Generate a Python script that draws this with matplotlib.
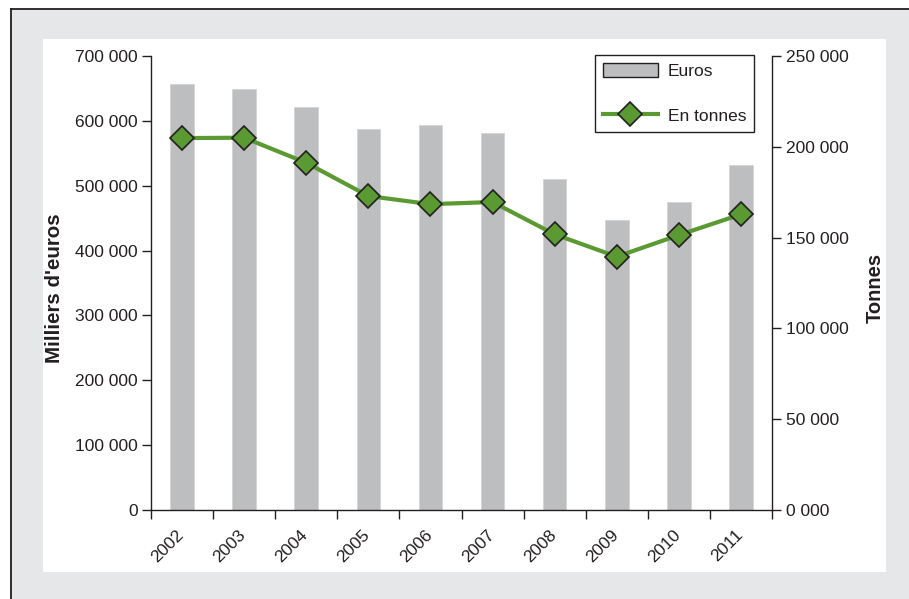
import matplotlib.pyplot as plt
from matplotlib.patches import Rectangle, Patch
from matplotlib.lines import Line2D
from matplotlib.transforms import ScaledTranslation
import numpy as np

plt.rcParams['font.family'] = ['Liberation Sans', 'DejaVu Sans']

years = ['2002', '2003', '2004', '2005', '2006', '2007', '2008', '2009', '2010', '2011']
euros = [657500, 648500, 621500, 588000, 593500, 582000, 511000, 447000, 474500, 532500]
tonnes = [204800, 205000, 191200, 172900, 168400, 169600, 151800, 139500, 151400, 162800]

left_ticks = [0, 100000, 200000, 300000, 400000, 500000, 600000, 700000]
left_labels = ['0', '100 000', '200 000', '300 000', '400 000', '500 000', '600 000', '700 000']
right_ticks = [0, 50000, 100000, 150000, 200000, 250000]
right_labels = ['0 000', '50 000', '100 000', '150 000', '200 000', '250 000']

ink = '#231f20'
bar_col = '#bcbec0'
green = '#5b9a32'

W, H = 909, 599
fig = plt.figure(figsize=(W / 100, H / 100), dpi=100)
fig.patch.set_facecolor('white')

# grey frame with border on left/top, white panel inside
fig.patches.append(Rectangle((11 / W, 0), 1 - 11 / W, 1 - 9 / H, transform=fig.transFigure,
                             facecolor='#e6e7e8', edgecolor='none', zorder=-3))
fig.lines.append(Line2D([11 / W, 11 / W], [0, 1 - 9 / H], transform=fig.transFigure,
                        color=ink, lw=1.3, zorder=-2))
fig.lines.append(Line2D([11 / W, 1], [1 - 9 / H, 1 - 9 / H], transform=fig.transFigure,
                        color=ink, lw=1.3, zorder=-2))
fig.patches.append(Rectangle((43 / W, 1 - 572 / H), (886 - 43) / W, (572 - 39) / H,
                             transform=fig.transFigure, facecolor='white', edgecolor='none', zorder=-1))

ax = fig.add_axes([151 / W, 1 - 510 / H, (772 - 151) / W, (510 - 56) / H])
ax.patch.set_alpha(0)
x = np.arange(len(years)) + 0.5
ax.bar(x, euros, width=0.38, color=bar_col, edgecolor='#d3d4d6', linewidth=0.6, zorder=2)
ax.set_xlim(0, len(years))
ax.set_ylim(0, 700000)
ax.set_yticks(left_ticks)
ax.set_yticklabels(left_labels)
ax.set_xticks(np.arange(len(years) + 1))
ax.set_xticklabels([])
ax.set_xticks(x, minor=True)
ax.set_xticklabels(years, minor=True, rotation=45, ha='right', va='top', rotation_mode='anchor')
ax.tick_params(axis='x', which='minor', length=0, pad=12.5, labelsize=12.5, labelcolor=ink)
ax.tick_params(axis='x', which='major', length=6.5, width=1, color=ink)
ax.tick_params(axis='y', length=6.2, width=1, color=ink, pad=3.2, labelsize=12.5, labelcolor=ink)
shift = ScaledTranslation(-6 / 100, 0, fig.dpi_scale_trans)
for lab in ax.get_xticklabels(minor=True):
    lab.set_transform(lab.get_transform() + shift)
for s in ['left', 'bottom']:
    ax.spines[s].set_color(ink)
    ax.spines[s].set_linewidth(1)
ax.spines['top'].set_visible(False)
ax.spines['right'].set_visible(False)

ax2 = ax.twinx()
ax2.plot(x, tonnes, color=green, lw=3, marker='D', markersize=12, markerfacecolor=green,
         markeredgecolor=ink, markeredgewidth=1.2, zorder=3)
ax2.set_ylim(0, 250000)
ax2.set_yticks(right_ticks)
ax2.set_yticklabels(right_labels)
ax2.tick_params(axis='y', length=6.2, width=1, color=ink, pad=4.2, labelsize=12.5, labelcolor=ink)
ax2.spines['right'].set_color(ink)
ax2.spines['right'].set_linewidth(1)
for s in ['left', 'top', 'bottom']:
    ax2.spines[s].set_visible(False)

fig.text(55 / W, 1 - 288 / H, "Milliers d'euros", rotation=90, ha='center', va='center',
         fontsize=14.8, fontweight='bold', color=ink)
fig.text(875 / W, 1 - 288 / H, 'Tonnes', rotation=90, ha='center', va='center',
         fontsize=14.5, fontweight='bold', color=ink)

handles = [Patch(facecolor=bar_col, edgecolor=ink, linewidth=1),
           Line2D([], [], color=green, lw=3, marker='D', markersize=12, markerfacecolor=green,
                  markeredgecolor=ink, markeredgewidth=1.2)]
leg = ax2.legend(handles, ['Euros', 'En tonnes'], loc='upper right',
                 bbox_to_anchor=(754 / W, 1 - 55 / H), bbox_transform=fig.transFigure,
                 borderaxespad=0, fontsize=12.5, frameon=True, fancybox=False,
                 edgecolor=ink, framealpha=1, borderpad=0.45, handlelength=3.16,
                 handleheight=0.92, handletextpad=0.57, labelspacing=1.65)
leg.get_frame().set_linewidth(1)
for t in leg.get_texts():
    t.set_color(ink)

fig.savefig('out.png', dpi=100)
